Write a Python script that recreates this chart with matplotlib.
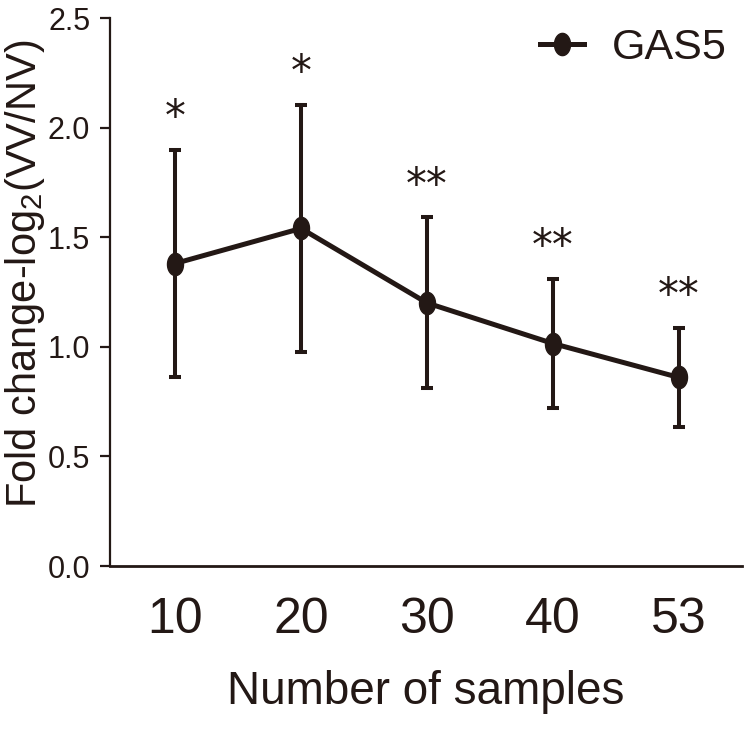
import numpy as np
import matplotlib
matplotlib.use("Agg")
import matplotlib.pyplot as plt
from matplotlib.path import Path

INK = "#231815"
NARROW = ["Liberation Sans Narrow", "Liberation Sans", "DejaVu Sans"]

plt.rcParams["font.family"] = NARROW
plt.rcParams["mathtext.fontset"] = "custom"
plt.rcParams["mathtext.rm"] = "Liberation Sans"

# data
samples  = ["10", "20", "30", "40", "53"]
gas5     = [1.38, 1.54, 1.20, 1.015, 0.86]
gas5_err = [0.52, 0.565, 0.39, 0.295, 0.225]
stars    = ["*", "*", "**", "**", "**"]

# slightly squashed dot, like the original Prism export
t = np.linspace(0, 2 * np.pi, 60)
ellipse = Path(np.column_stack([0.72 * np.cos(t), np.sin(t)]), closed=True)

fig = plt.figure(figsize=(7.44, 7.29), dpi=100)
ax = fig.add_axes([110 / 744, 163 / 729, 632 / 744, 548 / 729])

x = np.arange(len(samples))
ax.errorbar(x, gas5, yerr=gas5_err, fmt="none", ecolor=INK,
            elinewidth=2.9, capsize=4.3, capthick=2.9, zorder=2)
ax.plot(x, gas5, color=INK, lw=3.6, marker=ellipse, ms=16,
        mfc=INK, mec=INK, zorder=3, label="GAS5")

for xi, m, e, s in zip(x, gas5, gas5_err, stars):
    ax.annotate(s, (xi, m + e), xytext=(0, 23), textcoords="offset points",
                ha="center", va="center", fontsize=30, color=INK,
                family=["DejaVu Sans"])

ax.set_xlim(-0.516, 4.5)
ax.set_ylim(0, 2.5)
ax.set_yticks([0, 0.5, 1.0, 1.5, 2.0, 2.5])
ax.set_yticklabels(["0.0", "0.5", "1.0", "1.5", "2.0", "2.5"])
ax.set_xticks(x)
ax.set_xticklabels(samples)

for sp in ["top", "right"]:
    ax.spines[sp].set_visible(False)
ax.spines["left"].set_linewidth(1.6)
ax.spines["bottom"].set_linewidth(2.0)
ax.spines["left"].set_color(INK)
ax.spines["bottom"].set_color(INK)

ax.tick_params(axis="y", direction="out", length=7.2, width=1.6,
               colors=INK, labelsize=22, pad=7)
ax.tick_params(axis="x", length=0, colors=INK, labelsize=36, pad=22)

ax.set_xlabel("Number of samples", fontsize=33, color=INK, labelpad=20)
fig.text(3 / 744, 1 - 274 / 729, r"Fold change-log$_\mathrm{2}$(VV/NV)",
         rotation=90, ha="left", va="center", fontsize=30, color=INK,
         family=["Liberation Sans", "DejaVu Sans"])

ax.legend(loc="center left", bbox_to_anchor=(540 / 744, 1 - 48 / 729),
          bbox_transform=fig.transFigure, frameon=False, fontsize=31,
          handlelength=1.03, handletextpad=0.63, borderpad=0,
          borderaxespad=0, labelcolor=INK)

fig.savefig("out.png", dpi=100)
